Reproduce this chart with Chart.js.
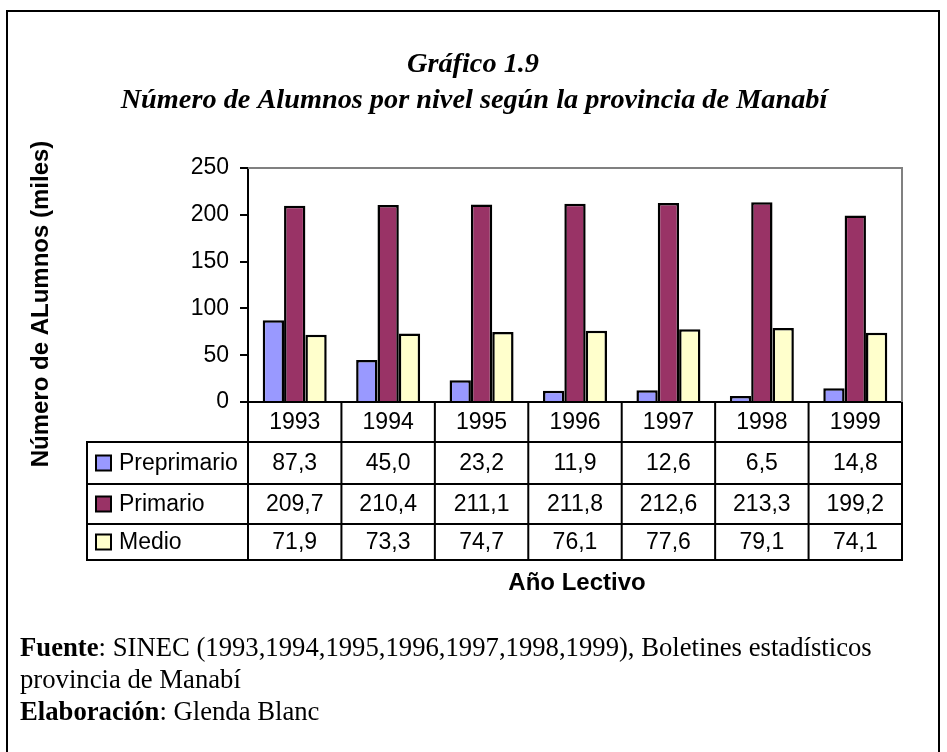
<!DOCTYPE html>
<html>
<head>
<meta charset="utf-8">
<script src="https://cdn.jsdelivr.net/npm/chart.js@4.4.0/dist/chart.umd.min.js"></script>
<style>
  html, body { margin: 0; padding: 0; background: #fff; }
  #wrap { width: 947px; height: 752px; }
</style>
</head>
<body>
<div id="wrap"><canvas id="chart" width="947" height="752"></canvas></div>
<script>
const years = ['1993', '1994', '1995', '1996', '1997', '1998', '1999'];
const seriesNames = ['Preprimario', 'Primario', 'Medio'];
const preprimario = [87.3, 45.0, 23.2, 11.9, 12.6, 6.5, 14.8];
const primario = [209.7, 210.4, 211.1, 211.8, 212.6, 213.3, 199.2];
const medio = [71.9, 73.3, 74.7, 76.1, 77.6, 79.1, 74.1];
const seriesColors = ['#9999ff', '#993366', '#ffffcc'];
const yTicks = [0, 50, 100, 150, 200, 250];
const titleLines = ['Gráfico 1.9', 'Número de Alumnos por nivel según la provincia de Manabí'];
const yTitle = 'Número de ALumnos (miles)';
const xTitle = 'Año Lectivo';

const sans = '"Liberation Sans", Arial, sans-serif';
const serif = '"Liberation Serif", "Times New Roman", serif';
const fmt = v => v.toFixed(1).replace('.', ',');

// frame, titles, footer
const decorPlugin = {
  id: 'decor',
  afterDraw(chart) {
    const ctx = chart.ctx;
    ctx.save();
    ctx.strokeStyle = '#000';
    ctx.lineWidth = 2;
    ctx.beginPath();
    ctx.moveTo(7, 752);
    ctx.lineTo(7, 11);
    ctx.lineTo(939, 11);
    ctx.lineTo(939, 752);
    ctx.stroke();

    ctx.fillStyle = '#000';
    ctx.textAlign = 'center';
    ctx.textBaseline = 'alphabetic';
    ctx.font = 'italic bold 28.3px ' + serif;
    ctx.fillText(titleLines[0], 473, 72);
    ctx.fillText(titleLines[1], 474, 108);

    // axis titles
    const ca = chart.chartArea;
    ctx.font = 'bold 24px ' + sans;
    ctx.textBaseline = 'middle';
    ctx.fillText(xTitle, (ca.left + ca.right) / 2 + 2, 583);
    ctx.save();
    ctx.translate(41, 304);
    ctx.rotate(-Math.PI / 2);
    ctx.fillText(yTitle, 0, 0);
    ctx.restore();

    // footer
    ctx.textAlign = 'left';
    ctx.textBaseline = 'alphabetic';
    const foot = [
      ['Fuente', ': SINEC (1993,1994,1995,1996,1997,1998,1999), Boletines estadísticos'],
      ['', 'provincia de Manabí'],
      ['Elaboración', ': Glenda Blanc']
    ];
    foot.forEach((f, i) => {
      const y = 656 + i * 32;
      ctx.font = 'bold 26.7px ' + serif;
      ctx.fillText(f[0], 20, y);
      const w = ctx.measureText(f[0]).width;
      ctx.font = '26.7px ' + serif;
      ctx.fillText(f[1], 20 + w, y);
    });
    ctx.restore();
  }
};

// gray plot border + data table under the axis
const tablePlugin = {
  id: 'dataTable',
  beforeDatasetsDraw(chart) {
    const ca = chart.chartArea;
    const ctx = chart.ctx;
    ctx.save();
    ctx.strokeStyle = '#808080';
    ctx.lineWidth = 2;
    ctx.beginPath();
    ctx.moveTo(ca.left, ca.top);
    ctx.lineTo(ca.right, ca.top);
    ctx.lineTo(ca.right, ca.bottom);
    ctx.stroke();
    ctx.restore();
  },
  afterDraw(chart) {
    const ca = chart.chartArea;
    const xs = chart.scales.x;
    const ctx = chart.ctx;
    const step = (ca.right - ca.left) / years.length;
    const bounds = years.map((_, i) => xs.getPixelForValue(i) - step / 2).concat([ca.right]);
    const rows = [ca.bottom, ca.bottom + 40, ca.bottom + 82, ca.bottom + 122, ca.bottom + 158];
    const legendLeft = 87;
    const seriesData = [preprimario, primario, medio];

    ctx.save();
    ctx.strokeStyle = '#000';
    ctx.lineWidth = 2;
    ctx.beginPath();
    for (let r = 1; r < rows.length; r++) {
      ctx.moveTo(legendLeft, rows[r]);
      ctx.lineTo(ca.right + 1, rows[r]);
    }
    bounds.forEach(b => {
      ctx.moveTo(b, rows[0]);
      ctx.lineTo(b, rows[rows.length - 1] + 1);
    });
    ctx.moveTo(legendLeft, rows[1] - 1);
    ctx.lineTo(legendLeft, rows[rows.length - 1] + 1);
    ctx.stroke();

    ctx.fillStyle = '#000';
    ctx.font = '23px ' + sans;
    ctx.textAlign = 'center';
    ctx.textBaseline = 'middle';
    years.forEach((y, i) => {
      ctx.fillText(y, xs.getPixelForValue(i), (rows[0] + rows[1]) / 2 + 1);
    });
    seriesData.forEach((arr, s) => {
      const cy = (rows[s + 1] + rows[s + 2]) / 2 + 1;
      arr.forEach((v, i) => {
        ctx.fillText(fmt(v), xs.getPixelForValue(i), cy);
      });
    });

    // legend keys
    ctx.textAlign = 'left';
    seriesNames.forEach((name, s) => {
      const cy = (rows[s + 1] + rows[s + 2]) / 2;
      ctx.fillStyle = seriesColors[s];
      ctx.fillRect(96, cy - 7.5, 15, 15);
      ctx.lineWidth = 2;
      ctx.strokeRect(96, cy - 7.5, 15, 15);
      ctx.fillStyle = '#000';
      ctx.fillText(name, 119, cy + 1);
    });
    ctx.restore();
  }
};

new Chart(document.getElementById('chart'), {
  type: 'bar',
  data: {
    labels: years,
    datasets: [
      { label: seriesNames[0], data: preprimario, backgroundColor: seriesColors[0] },
      { label: seriesNames[1], data: primario, backgroundColor: seriesColors[1] },
      { label: seriesNames[2], data: medio, backgroundColor: seriesColors[2] }
    ].map(d => Object.assign(d, {
      borderColor: '#000',
      borderWidth: 2.5,
      borderSkipped: 'start',
      categoryPercentage: 0.685,
      barPercentage: 1.0
    }))
  },
  options: {
    responsive: false,
    animation: false,
    devicePixelRatio: 1,
    layout: { padding: { left: 188, top: 168, right: 45, bottom: 350 } },
    plugins: {
      legend: { display: false },
      title: { display: false },
      tooltip: { enabled: false }
    },
    scales: {
      x: {
        ticks: { display: false },
        grid: { display: false },
        border: { display: true, color: '#000', width: 2 },
        afterFit: s => { s.height = 0; }
      },
      y: {
        min: 0,
        max: 250,
        afterBuildTicks: s => { s.ticks = yTicks.map(v => ({ value: v })); },
        ticks: { color: '#000', font: { family: sans, size: 23 }, padding: 11 },
        grid: { display: true, drawOnChartArea: false, drawTicks: true, tickLength: 8, color: '#000', lineWidth: 2 },
        border: { display: true, color: '#000', width: 2 },
        afterFit: s => { s.width = 60; }
      }
    }
  },
  plugins: [tablePlugin, decorPlugin]
});
</script>
</body>
</html>
